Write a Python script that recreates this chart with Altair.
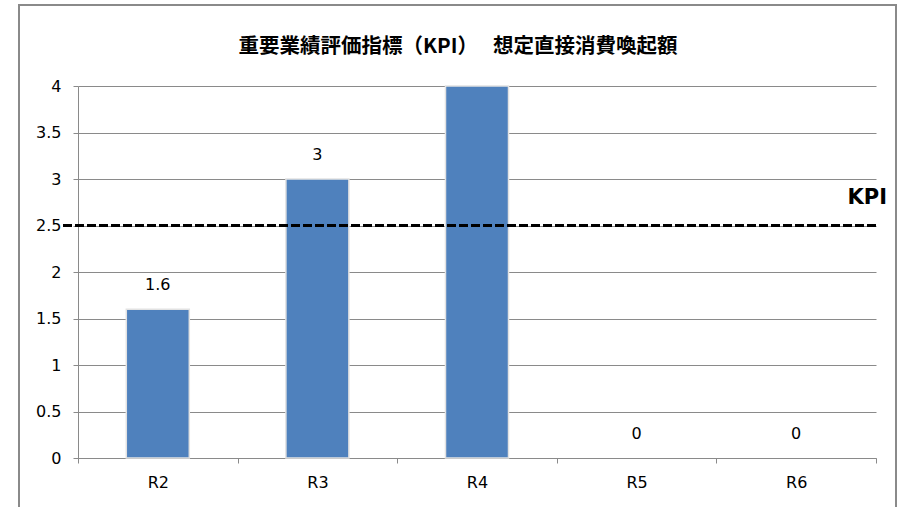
import altair as alt
import pandas as pd

# Data
periods = ["R2", "R3", "R4", "R5", "R6"]
values = [1.6, 3, 4, 0, 0]
show_label = [True, True, False, True, True]
kpi_value = 2.5
kpi_text = "KPI"
title_text = "重要業績評価指標（KPI）　 想定直接消費喚起額"
y_ticks = [0, 0.5, 1, 1.5, 2, 2.5, 3, 3.5, 4]

df = pd.DataFrame({"period": periods, "value": values, "show": show_label})
kpi_df = pd.DataFrame({"label": [kpi_text], "target": [kpi_value], "title": [title_text]})

W, H = 798, 372
GRAY = "#8a8a8a"
FONT = "DejaVu Sans"

x_enc = alt.X(
    "period:N",
    sort=periods,
    scale=alt.Scale(paddingInner=0, paddingOuter=0),
    axis=alt.Axis(
        title=None, labelAngle=0, tickBand="extent", grid=False,
        domainColor=GRAY, tickColor=GRAY, tickSize=5, labelFont=FONT,
        labelFontSize=16, labelColor="#000", labelPadding=11,
    ),
)
y_enc = alt.Y(
    "value:Q",
    scale=alt.Scale(domain=[0, 4], nice=False),
    axis=alt.Axis(
        title=None, values=y_ticks, format="~g", grid=True, gridColor=GRAY,
        domainColor=GRAY, tickColor=GRAY, tickSize=5, labelFont=FONT,
        labelFontSize=16, labelColor="#000", labelPadding=12,
    ),
)

base = alt.Chart(df)

bars = base.mark_bar(size=63, color="#4F81BD", stroke="#e2e2e2", strokeWidth=1.5).encode(
    x=x_enc,
    y=y_enc,
    strokeOpacity=alt.condition("datum.value > 0", alt.value(1), alt.value(0)),
)

labels = base.transform_filter("datum.show").mark_text(
    font=FONT, fontSize=16, color="#000", baseline="middle", dy=-24
).encode(
    x=alt.X("period:N", sort=periods),
    y="value:Q",
    text=alt.Text("value:Q", format="~g"),
)

kpi_base = alt.Chart(kpi_df)

kpi_line = kpi_base.mark_rule(color="#000", strokeWidth=3, strokeDash=[9, 3]).encode(
    y="target:Q", x=alt.value(-15), x2=alt.value(W + 3)
)

kpi_label = kpi_base.mark_text(
    font=FONT, fontSize=21, fontWeight="bold", color="#000",
    align="right", baseline="bottom", dy=-18,
).encode(y="target:Q", x=alt.value(W + 11), text="label:N")

# Chart heading, centred on the outer border
heading = kpi_base.mark_text(
    font="Noto Sans CJK JP", fontSize=20.5, fontWeight="bold", color="#000",
    align="center", baseline="middle",
).encode(x=alt.value(W / 2 - 19), y=alt.value(-39), text="title:N")

# Outer chart border
frame = kpi_base.mark_rect(fillOpacity=0, stroke=GRAY, strokeWidth=2).encode(
    x=alt.value(-59), x2=alt.value(818), y=alt.value(-81), y2=alt.value(H + 80)
)

chart = (
    alt.layer(frame, bars, labels, kpi_line, kpi_label, heading)
    .properties(
        width=W,
        height=H,
        autosize=alt.AutoSizeParams(type="none"),
        padding={"left": 78, "top": 86, "right": 28, "bottom": 49},
        background="white",
    )
    .configure_view(strokeWidth=0)
)

chart.save("out.html", embed_options={"renderer": "svg", "actions": False})
